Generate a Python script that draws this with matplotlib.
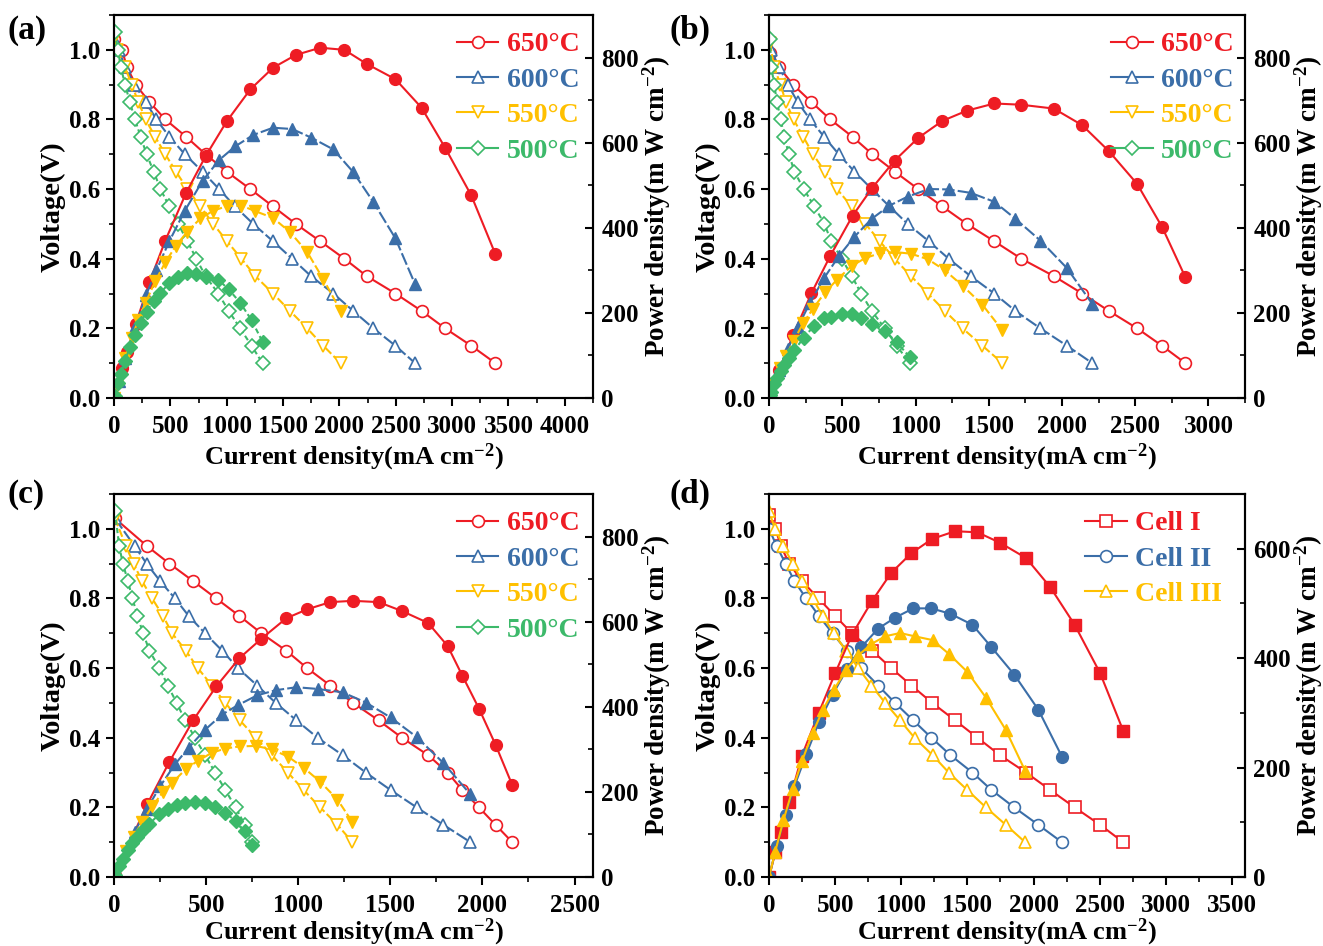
import matplotlib
matplotlib.use("Agg")
from matplotlib import pyplot as plt
from matplotlib.lines import Line2D
from matplotlib.ticker import MultipleLocator, FormatStrFormatter

plt.rcParams['font.family'] = ['Liberation Serif', 'DejaVu Serif']
plt.rcParams['font.weight'] = 'bold'
plt.rcParams['axes.labelweight'] = 'bold'
plt.rcParams['mathtext.fontset'] = 'custom'
plt.rcParams['mathtext.rm'] = 'Liberation Serif:bold'
plt.rcParams['mathtext.it'] = 'Liberation Serif:bold'
plt.rcParams['mathtext.bf'] = 'Liberation Serif:bold'
plt.rcParams['mathtext.default'] = 'rm'
plt.rcParams['axes.linewidth'] = 1.5

RED = '#ee1c24'
BLUE = '#3b6ea8'
YELLOW = '#ffc000'
GREEN = '#3cb96a'

# ---- panel (a) ----
a_I650 = [0, 70, 115, 192, 314, 455, 640, 812, 1000, 1209, 1411, 1613, 1830, 2044, 2242, 2497, 2729, 2938, 3170, 3384]
a_V650 = [1.03, 1.0, 0.95, 0.9, 0.85, 0.8, 0.75, 0.7, 0.65, 0.6, 0.55, 0.5, 0.45, 0.4, 0.35, 0.3, 0.25, 0.2, 0.15, 0.1]
a_P650 = [0, 70, 109, 173, 272, 370, 482, 568, 650, 725, 776, 806, 823, 818, 785, 749, 682, 588, 476, 338]

a_I600 = [0, 40, 100, 180, 283, 375, 492, 628, 785, 932, 1074, 1235, 1411, 1580, 1748, 1946, 2122, 2302, 2497, 2672]
a_V600 = [1.03, 1.0, 0.95, 0.9, 0.85, 0.8, 0.75, 0.7, 0.65, 0.6, 0.55, 0.5, 0.45, 0.4, 0.35, 0.3, 0.25, 0.2, 0.15, 0.1]
a_P600 = [0, 40, 95, 162, 241, 300, 369, 440, 510, 559, 591, 618, 635, 632, 612, 584, 531, 460, 375, 267]

a_I550 = [0, 30, 100, 155, 217, 280, 365, 455, 550, 651, 767, 880, 1003, 1130, 1254, 1411, 1561, 1714, 1857, 2010]
a_V550 = [1.03, 1.0, 0.95, 0.9, 0.85, 0.8, 0.75, 0.7, 0.65, 0.6, 0.55, 0.5, 0.45, 0.4, 0.35, 0.3, 0.25, 0.2, 0.15, 0.1]
a_P550 = [0, 30, 95, 140, 184, 224, 274, 319, 358, 391, 422, 440, 451, 452, 439, 423, 390, 343, 279, 205]

a_I500 = [5, 35, 60, 98, 140, 186, 236, 289, 352, 412, 490, 569, 651, 730, 812, 925, 1018, 1119, 1220, 1318]
a_V500 = [1.05, 1.0, 0.95, 0.9, 0.85, 0.8, 0.75, 0.7, 0.65, 0.6, 0.55, 0.5, 0.45, 0.4, 0.35, 0.3, 0.25, 0.2, 0.15, 0.1]
a_P500 = [5, 35, 57, 88, 119, 149, 177, 202, 229, 247, 270, 285, 293, 292, 284, 278, 255, 224, 183, 132]

# ---- panel (b) ----
b_I650 = [5, 69, 163, 289, 418, 570, 705, 858, 1018, 1183, 1350, 1538, 1722, 1944, 2138, 2320, 2513, 2683, 2842]
b_V650 = [0.99, 0.95, 0.9, 0.85, 0.8, 0.75, 0.7, 0.65, 0.6, 0.55, 0.5, 0.45, 0.4, 0.35, 0.3, 0.25, 0.2, 0.15, 0.1]
b_P650 = [5, 66, 147, 246, 334, 428, 494, 558, 611, 651, 675, 692, 689, 680, 641, 580, 503, 402, 284]

b_I600 = [12, 69, 128, 195, 280, 376, 476, 583, 701, 822, 946, 1091, 1226, 1376, 1538, 1682, 1852, 2034, 2207]
b_V600 = [1.0, 0.95, 0.9, 0.85, 0.8, 0.75, 0.7, 0.65, 0.6, 0.55, 0.5, 0.45, 0.4, 0.35, 0.3, 0.25, 0.2, 0.15, 0.1]
b_P600 = [12, 66, 115, 166, 224, 282, 333, 379, 421, 452, 473, 491, 490, 482, 461, 421, 370, 305, 221]

b_I550 = [5, 35, 78, 115, 167, 234, 300, 382, 464, 563, 658, 756, 857, 969, 1085, 1200, 1321, 1457, 1593]
b_V550 = [1.02, 0.95, 0.9, 0.85, 0.8, 0.75, 0.7, 0.65, 0.6, 0.55, 0.5, 0.45, 0.4, 0.35, 0.3, 0.25, 0.2, 0.15, 0.1]
b_P550 = [5, 33, 70, 98, 134, 176, 210, 248, 278, 310, 329, 340, 343, 339, 326, 300, 264, 219, 159]

b_I500 = [6, 16, 35, 54, 80, 103, 136, 173, 237, 309, 378, 424, 496, 565, 629, 701, 790, 871, 961]
b_V500 = [1.03, 0.95, 0.9, 0.85, 0.8, 0.75, 0.7, 0.65, 0.6, 0.55, 0.5, 0.45, 0.4, 0.35, 0.3, 0.25, 0.2, 0.15, 0.1]
b_P500 = [6, 15, 32, 46, 64, 77, 95, 112, 142, 170, 189, 191, 198, 198, 189, 175, 158, 131, 96]

# ---- panel (c) ----
c_I650 = [5, 180, 301, 429, 555, 680, 800, 935, 1048, 1174, 1298, 1436, 1563, 1705, 1811, 1891, 1981, 2071, 2162]
c_V650 = [1.03, 0.95, 0.9, 0.85, 0.8, 0.75, 0.7, 0.65, 0.6, 0.55, 0.5, 0.45, 0.4, 0.35, 0.3, 0.25, 0.2, 0.15, 0.1]
c_P650 = [5, 171, 271, 368, 448, 514, 560, 608, 629, 646, 649, 646, 625, 597, 543, 473, 396, 311, 216]

c_I600 = [5, 112, 177, 250, 331, 405, 494, 587, 673, 777, 878, 990, 1105, 1241, 1367, 1501, 1643, 1788, 1935]
c_V600 = [1.03, 0.95, 0.9, 0.85, 0.8, 0.75, 0.7, 0.65, 0.6, 0.55, 0.5, 0.45, 0.4, 0.35, 0.3, 0.25, 0.2, 0.15, 0.1]
c_P600 = [5, 106, 159, 213, 265, 304, 346, 382, 404, 427, 439, 446, 442, 434, 410, 375, 329, 268, 194]

c_I550 = [5, 65, 106, 152, 207, 266, 315, 390, 455, 531, 604, 683, 770, 857, 944, 1029, 1119, 1213, 1294]
c_V550 = [1.03, 0.95, 0.9, 0.85, 0.8, 0.75, 0.7, 0.65, 0.6, 0.55, 0.5, 0.45, 0.4, 0.35, 0.3, 0.25, 0.2, 0.15, 0.1]
c_P550 = [5, 62, 95, 129, 166, 200, 221, 254, 273, 292, 302, 307, 308, 300, 283, 257, 224, 182, 129]

c_I500 = [5, 28, 48, 75, 100, 127, 158, 192, 246, 292, 340, 386, 439, 494, 549, 604, 660, 710, 747]
c_V500 = [1.05, 0.95, 0.9, 0.85, 0.8, 0.75, 0.7, 0.65, 0.6, 0.55, 0.5, 0.45, 0.4, 0.35, 0.3, 0.25, 0.2, 0.15, 0.1]
c_P500 = [5, 27, 43, 64, 80, 95, 111, 125, 148, 161, 170, 174, 176, 173, 165, 151, 132, 107, 75]

# ---- panel (d) ----
d_I1 = [0, 48, 90, 153, 249, 374, 499, 627, 780, 924, 1077, 1234, 1407, 1576, 1746, 1944, 2126, 2311, 2503, 2679]
d_V1 = [1.04, 1.0, 0.95, 0.9, 0.85, 0.8, 0.75, 0.7, 0.65, 0.6, 0.55, 0.5, 0.45, 0.4, 0.35, 0.3, 0.25, 0.2, 0.15, 0.1]
d_P1 = [0, 46, 82, 138, 222, 299, 372, 443, 505, 556, 592, 618, 632, 630, 611, 583, 530, 461, 373, 267]

d_I2 = [0, 58, 125, 192, 281, 377, 480, 588, 697, 825, 953, 1090, 1228, 1372, 1538, 1682, 1854, 2036, 2215]
d_V2 = [1.0, 0.95, 0.9, 0.85, 0.8, 0.75, 0.7, 0.65, 0.6, 0.55, 0.5, 0.45, 0.4, 0.35, 0.3, 0.25, 0.2, 0.15, 0.1]
d_P2 = [0, 57, 114, 166, 224, 283, 333, 380, 420, 454, 474, 491, 491, 481, 461, 420, 370, 306, 220]

d_I3 = [0, 45, 109, 179, 249, 329, 406, 489, 582, 675, 774, 879, 991, 1100, 1237, 1359, 1499, 1640, 1790, 1937]
d_V3 = [1.05, 1.0, 0.95, 0.9, 0.85, 0.8, 0.75, 0.7, 0.65, 0.6, 0.55, 0.5, 0.45, 0.4, 0.35, 0.3, 0.25, 0.2, 0.15, 0.1]
d_P3 = [0, 45, 104, 161, 212, 263, 305, 342, 378, 405, 426, 440, 446, 440, 433, 408, 375, 328, 269, 194]

temps = ['650°C', '600°C', '550°C', '500°C']
cells = ['Cell I', 'Cell II', 'Cell III']

TEMP_STYLE = [(RED, 'o', 8.5, None), (BLUE, '^', 8.5, (6, 1.5)),
              (YELLOW, 'v', 8.5, (4, 1.5)), (GREEN, 'D', 7, (2.5, 1.5))]
CELL_STYLE = [(RED, 's', 8, None), (BLUE, 'o', 8.5, None), (YELLOW, '^', 8.5, None)]


def draw_panel(ax, curves, names, styles, xmax, pmax, tag, tag_xy, leg_anchor, xpad):
    ax2 = ax.twinx()
    handles = []
    for (I, V, P), name, (col, mk, ms, dash) in zip(curves, names, styles):
        ls = '-' if dash is None else (0, dash)
        ax.plot(I, V, color=col, ls=ls, lw=1.5, marker=mk, ms=ms,
                mfc='white', mec=col, mew=1.2)
        ax2.plot(I, P, color=col, ls=ls, lw=1.5, marker=mk, ms=ms,
                 mfc=col, mec=col)
        handles.append(Line2D([], [], color=col, lw=1.5, marker=mk, ms=ms,
                              mfc='white', mec=col, mew=1.2, label=name))

    ax.set_xlim(0, xmax)
    ax.set_ylim(0, 1.1)
    ax2.set_ylim(0, pmax)
    ax.xaxis.set_major_locator(MultipleLocator(500))
    ax.xaxis.set_minor_locator(MultipleLocator(250))
    ax.yaxis.set_major_locator(MultipleLocator(0.2))
    ax.yaxis.set_minor_locator(MultipleLocator(0.1))
    ax.yaxis.set_major_formatter(FormatStrFormatter('%.1f'))
    ax2.yaxis.set_major_locator(MultipleLocator(200))
    ax2.yaxis.set_minor_locator(MultipleLocator(100))

    ax.tick_params(which='both', direction='out', top=False, right=False,
                   labelsize=18)
    ax.tick_params(axis='x', pad=6)
    ax.tick_params(axis='y', pad=4)
    ax.tick_params(which='major', length=6, width=1.5)
    ax.tick_params(which='minor', length=3.5, width=1.2)
    ax2.tick_params(which='both', direction='in', labelsize=18, pad=6)
    ax2.tick_params(which='major', length=6, width=1.5)
    ax2.tick_params(which='minor', length=3.5, width=1.2)

    ax.set_xlabel('Current density(mA cm$^{-2}$)', fontsize=19, labelpad=xpad)
    ax.set_ylabel('Voltage(V)', fontsize=20.5, labelpad=2)
    ax2.set_ylabel('Power density(m W cm$^{-2}$)', fontsize=19.5, labelpad=1)

    ax2.legend(handles=handles, loc='upper right', bbox_to_anchor=leg_anchor,
               frameon=False, fontsize=20, labelcolor='linecolor',
               handlelength=1.5, handletextpad=0.3, labelspacing=0.36,
               borderaxespad=0.0)
    ax.figure.text(tag_xy[0], tag_xy[1], tag, fontsize=24, fontweight='bold',
                   ha='left', va='center')


fig = plt.figure(figsize=(13.23, 9.46), dpi=100)
ax_a = fig.add_axes([0.0862, 0.5793, 0.3620, 0.4049])
ax_b = fig.add_axes([0.5813, 0.5793, 0.3598, 0.4049])
ax_c = fig.add_axes([0.0862, 0.0729, 0.3620, 0.4049])
ax_d = fig.add_axes([0.5813, 0.0729, 0.3598, 0.4049])

draw_panel(ax_a, [(a_I650, a_V650, a_P650), (a_I600, a_V600, a_P600),
                  (a_I550, a_V550, a_P550), (a_I500, a_V500, a_P500)],
           temps, TEMP_STYLE, 4250, 900, '(a)', (0.006, 0.968), (0.995, 0.985), 3)
draw_panel(ax_b, [(b_I650, b_V650, b_P650), (b_I600, b_V600, b_P600),
                  (b_I550, b_V550, b_P550), (b_I500, b_V500, b_P500)],
           temps, TEMP_STYLE, 3250, 900, '(b)', (0.506, 0.968), (1.0, 0.985), 3)
draw_panel(ax_c, [(c_I650, c_V650, c_P650), (c_I600, c_V600, c_P600),
                  (c_I550, c_V550, c_P550), (c_I500, c_V500, c_P500)],
           temps, TEMP_STYLE, 2600, 900, '(c)', (0.006, 0.477), (0.995, 0.985), 0)
draw_panel(ax_d, [(d_I1, d_V1, d_P1), (d_I2, d_V2, d_P2), (d_I3, d_V3, d_P3)],
           cells, CELL_STYLE, 3600, 700, '(d)', (0.506, 0.477), (0.975, 0.985), 0)

fig.savefig('out.png', dpi=100)
